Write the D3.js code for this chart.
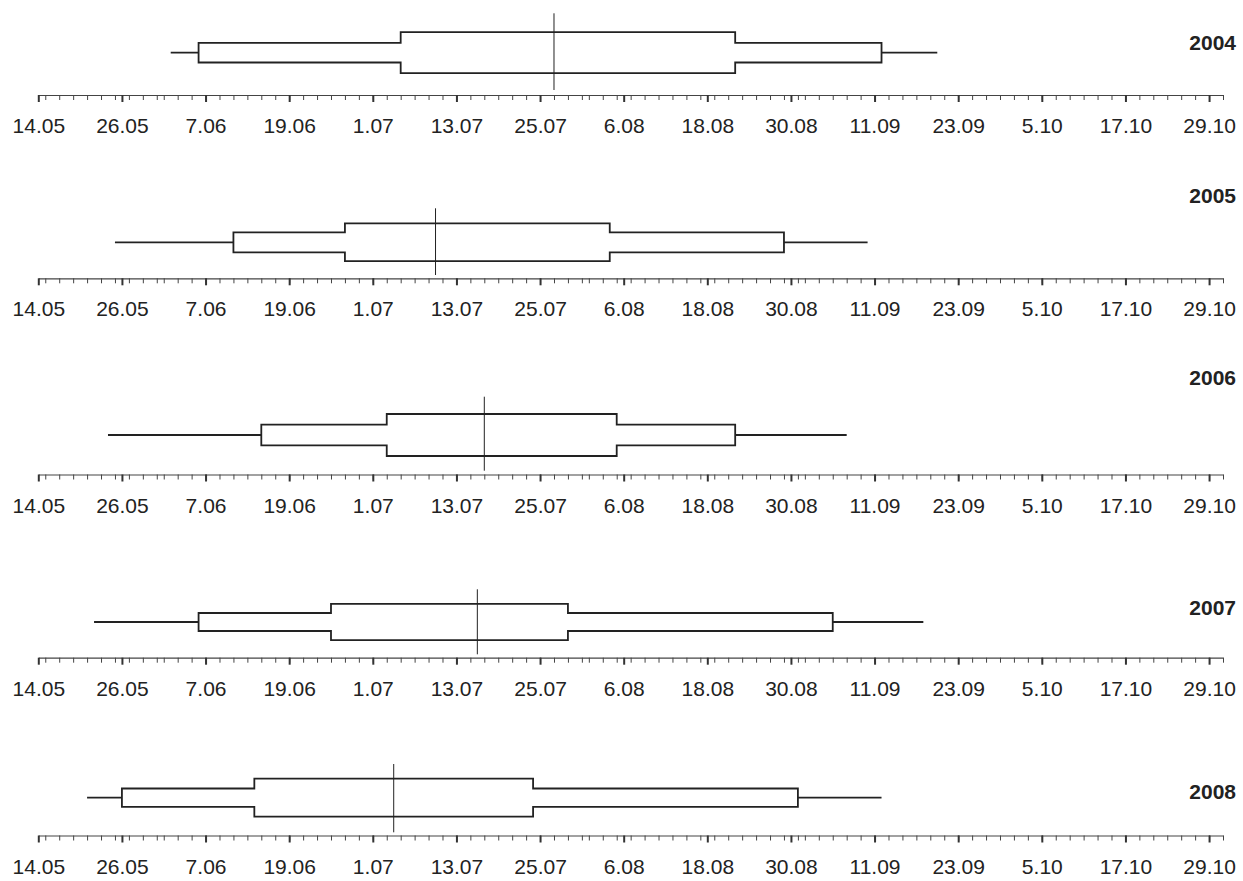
<!DOCTYPE html>
<html>
<head>
<meta charset="utf-8">
<script src="https://cdn.jsdelivr.net/npm/d3@7"></script>
<style>
    html, body { margin: 0; padding: 0; background: #fff; }
    svg { display: block; font-family: "Liberation Sans", Arial, sans-serif; }
</style>
</head>
<body>
<div id="chart"></div>
<script>
// dates, as day.month
const years = ['2004', '2005', '2006', '2007', '2008']
const whiskerLow = ['2.06', '25.05', '24.05', '22.05', '21.05']
const outerLow = ['6.06', '11.06', '15.06', '6.06', '26.05']
const innerLow = ['5.07', '27.06', '3.07', '25.06', '14.06']
const medians = ['27.07', '10.07', '17.07', '16.07', '4.07']
const innerHigh = ['22.08', '4.08', '5.08', '29.07', '24.07']
const outerHigh = ['12.09', '29.08', '22.08', '5.09', '31.08']
const whiskerHigh = ['20.09', '10.09', '7.09', '18.09', '12.09']

const tickLabels = ['14.05', '26.05', '7.06', '19.06', '1.07', '13.07', '25.07',
    '6.08', '18.08', '30.08', '11.09', '23.09', '5.10', '17.10', '29.10']
const axisStart = '14.05'
const axisEnd = '31.10'

// panel geometry (pixels), one entry per year
const layout = [
    { axisY: 95, midY: 52.7, outerH: 9.8, innerH: 20.5, medTop: 13.3, medBot: 90, labelY: 50 },
    { axisY: 278.3, midY: 242.3, outerH: 10, innerH: 18.9, medTop: 208.3, medBot: 275, labelY: 202.7 },
    { axisY: 474.5, midY: 435, outerH: 10.4, innerH: 21, medTop: 396.7, medBot: 470.7, labelY: 385 },
    { axisY: 657.7, midY: 622, outerH: 9, innerH: 18.2, medTop: 589.3, medBot: 654.3, labelY: 615 },
    { axisY: 835.5, midY: 797.7, outerH: 9.2, innerH: 19, medTop: 764, medBot: 832.3, labelY: 799.3 }
]

const width = 1243
const height = 881
const parse = d3.timeParse('%d.%m.%Y')
const toDate = s => parse(s + '.2001')

const x = d3.scaleTime()
    .domain([toDate(axisStart), toDate(axisEnd)])
    .range([38.3, 1223])

const svg = d3.select('#chart').append('svg')
    .attr('width', width)
    .attr('height', height)

const majorTicks = tickLabels.map(toDate)
const minorTicks = d3.timeDay.every(2).range(toDate(axisStart), d3.timeDay.offset(toDate(axisEnd), 1))

const line = d3.line()

years.forEach((year, i) => {
    const L = layout[i]
    const g = svg.append('g')

    // axis: minor ticks every 2 days, labelled ticks every 12
    const minorAxis = d3.axisBottom(x)
        .tickValues(minorTicks)
        .tickSize(5)
        .tickSizeOuter(0)
        .tickFormat('')
    const gMinor = g.append('g')
        .attr('transform', `translate(0, ${ L.axisY })`)
        .call(minorAxis)
    gMinor.select('.domain').attr('stroke', '#444').attr('stroke-width', 1.2)
    gMinor.selectAll('.tick line').attr('stroke', '#444').attr('stroke-width', 1)

    const majorAxis = d3.axisBottom(x)
        .tickValues(majorTicks)
        .tickSize(7)
        .tickSizeOuter(0)
        .tickFormat((d, j) => tickLabels[j])
    const gMajor = g.append('g')
        .attr('transform', `translate(0, ${ L.axisY })`)
        .call(majorAxis)
    gMajor.select('.domain').remove()
    gMajor.selectAll('.tick line').attr('stroke', '#333').attr('stroke-width', 2)
    gMajor.selectAll('.tick text')
        .attr('y', 38)
        .attr('dy', null)
        .attr('fill', '#222')
        .attr('font-size', 21)
        .attr('font-family', '"Liberation Sans", Arial, sans-serif')

    // whiskers
    const wl = x(toDate(whiskerLow[i]))
    const ol = x(toDate(outerLow[i]))
    const il = x(toDate(innerLow[i]))
    const md = x(toDate(medians[i]))
    const ih = x(toDate(innerHigh[i]))
    const oh = x(toDate(outerHigh[i]))
    const wh = x(toDate(whiskerHigh[i]))
    const m = L.midY

    g.append('path')
        .attr('d', line([[wl, m], [ol, m]]) + line([[oh, m], [wh, m]]))
        .attr('fill', 'none')
        .attr('stroke', '#222')
        .attr('stroke-width', 1.8)

    // stepped box outline
    const pts = [
        [ol, m - L.outerH], [il, m - L.outerH], [il, m - L.innerH], [ih, m - L.innerH],
        [ih, m - L.outerH], [oh, m - L.outerH], [oh, m + L.outerH], [ih, m + L.outerH],
        [ih, m + L.innerH], [il, m + L.innerH], [il, m + L.outerH], [ol, m + L.outerH]
    ]
    g.append('path')
        .attr('d', line(pts) + 'Z')
        .attr('fill', 'none')
        .attr('stroke', '#222')
        .attr('stroke-width', 1.8)
        .attr('stroke-linejoin', 'miter')

    // median
    g.append('line')
        .attr('x1', md).attr('x2', md)
        .attr('y1', L.medTop).attr('y2', L.medBot)
        .attr('stroke', '#222')
        .attr('stroke-width', 1)

    g.append('text')
        .attr('x', 1236)
        .attr('y', L.labelY)
        .attr('text-anchor', 'end')
        .attr('font-weight', 'bold')
        .attr('font-size', 21)
        .attr('fill', '#222')
        .text(year)
})
</script>
</body>
</html>
